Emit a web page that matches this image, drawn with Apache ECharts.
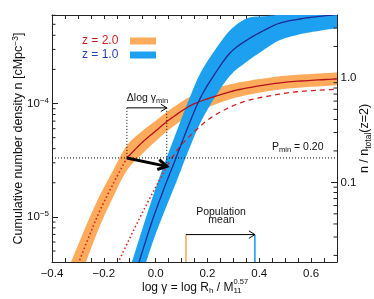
<!DOCTYPE html>
<html>
<head>
<meta charset="utf-8">
<script src="https://cdn.jsdelivr.net/npm/echarts@6.0.0/dist/echarts.min.js"></script>
<style>
html,body{margin:0;padding:0;background:#ffffff;}
#chart{width:374px;height:299px;}
</style>
</head>
<body>
<div id="chart"></div>
<script>
// ---------------- data ----------------
const xTickLabels = [-0.4, -0.2, 0.0, 0.2, 0.4, 0.6];
const leftTickLabels = [1e-5, 1e-4];
const rightTickLabels = [0.1, 1.0];

// z = 2.0 : cumulative density (dark red line) and its orange band
const z2X  = [-0.36, -0.296, -0.226, -0.168, -0.111, -0.049, 0.001, 0.055, 0.133, 0.200, 0.299, 0.399, 0.499, 0.600, 0.700];
const z2N  = [1.67e-6, 4.0e-6, 1.0e-5, 1.88e-5, 3.31e-5, 4.60e-5, 5.75e-5, 7.26e-5, 9.54e-5, 1.10e-4, 1.29e-4, 1.43e-4, 1.54e-4, 1.60e-4, 1.65e-4];
const z2Lo = [1.08e-6, 2.70e-6, 7.24e-6, 1.43e-5, 2.57e-5, 3.65e-5, 4.68e-5, 5.97e-5, 7.94e-5, 9.25e-5, 1.111e-4, 1.245e-4, 1.348e-4, 1.403e-4, 1.447e-4];
const z2Hi = [2.58e-6, 5.92e-6, 1.38e-5, 2.48e-5, 4.26e-5, 5.79e-5, 7.07e-5, 8.83e-5, 1.147e-4, 1.308e-4, 1.498e-4, 1.642e-4, 1.760e-4, 1.824e-4, 1.881e-4];
const z2DotEnd = 4;   // dotted below P_min, solid above

// z = 1.0 : cumulative density (navy line) and its blue band
const z1X  = [-0.11, -0.064, -0.014, 0.032, 0.079, 0.125, 0.171, 0.221, 0.287, 0.353, 0.422, 0.480, 0.557, 0.607, 0.700];
const z1N  = [1.85e-6, 4.0e-6, 9.1e-6, 1.77e-5, 3.33e-5, 6.24e-5, 1.10e-4, 1.72e-4, 2.79e-4, 3.64e-4, 4.46e-4, 5.13e-4, 5.57e-4, 5.79e-4, 6.10e-4];
const z1Lo = [1.17e-6, 2.52e-6, 5.74e-6, 1.09e-5, 2.01e-5, 3.76e-5, 6.63e-5, 1.061e-4, 1.76e-4, 2.35e-4, 3.02e-4, 3.63e-4, 4.08e-4, 4.29e-4, 4.63e-4];
const z1Hi = [2.93e-6, 6.34e-6, 1.44e-5, 2.87e-5, 5.53e-5, 1.036e-4, 1.826e-4, 2.79e-4, 4.42e-4, 5.64e-4, 5.90e-4, 6.10e-4, 6.60e-4, 7.00e-4, 7.50e-4];

// z = 2.0 curve with shifted gamma_min (red dotted / dashed)
const shX = [-0.18, -0.144, -0.053, 0.043, 0.094, 0.171, 0.221, 0.287, 0.353, 0.441, 0.546, 0.700];
const shN = [2.7e-6, 4.0e-6, 1.07e-5, 2.79e-5, 4.18e-5, 6.28e-5, 7.69e-5, 9.30e-5, 1.06e-4, 1.17e-4, 1.27e-4, 1.34e-4];
const shDotEnd = 3;

// annotations
const pMinLevel = [3.31e-5];                 // horizontal dotted line (P_min = 0.20)
const deltaGammaX = [-0.111, 0.043];         // Δlog γ_min arrow ends
const deltaGammaN = [9.16e-5];               // height of Δlog γ_min arrow
const shiftArrowX = [-0.111, 0.043];         // thick black arrow
const shiftArrowN = [3.31e-5, 2.79e-5];
const popMeanX = [0.117, 0.383];             // population means (z=2, z=1)
const popMeanN = [6.98e-6];

// ---------------- style ----------------
const FONT = "'Liberation Sans', Arial, Helvetica, sans-serif";
const INK = '#111111';
const AX = '#222222';
const ORANGE = '#ffab5b';
const BLUE = '#1ea0f0';
const DARKRED = '#b3121e';
const NAVY = '#1c2a92';
const RED = '#cc1f1f';
const LEG_RED = '#cc2222';
const LEG_BLUE = '#2542b8';

const XMIN = -0.4, XMAX = 0.7;
const YMIN = 4.0e-6, YMAX = 6.04e-4;
const RMIN = 0.0173, RMAX = 4.0;

function logMinor(lo, hi) {
  const out = [];
  for (let k = -8; k <= 3; k++) for (let m = 2; m <= 9; m++) {
    const v = m * Math.pow(10, k);
    if (v > lo * 1.0001 && v < hi * 0.9999) out.push(v);
  }
  return out;
}

// Catmull-Rom smoothing of already-projected pixel points (rendering only)
function smoothPx(pts, seg) {
  const out = [];
  for (let i = 0; i < pts.length - 1; i++) {
    const p0 = pts[Math.max(i - 1, 0)], p1 = pts[i], p2 = pts[i + 1], p3 = pts[Math.min(i + 2, pts.length - 1)];
    for (let k = 0; k < seg; k++) {
      const t = k / seg, t2 = t * t, t3 = t2 * t;
      out.push([0, 1].map(d => 0.5 * ((2 * p1[d]) + (-p0[d] + p2[d]) * t + (2 * p0[d] - 5 * p1[d] + 4 * p2[d] - p3[d]) * t2 + (-p0[d] + 3 * p1[d] - 3 * p2[d] + p3[d]) * t3)));
    }
  }
  out.push(pts[pts.length - 1]);
  return out;
}

function chevron(tip, from, len, angDeg) {
  const dx = tip[0] - from[0], dy = tip[1] - from[1];
  const L = Math.hypot(dx, dy) || 1;
  const bx = -dx / L, by = -dy / L, a = angDeg * Math.PI / 180;
  const c = Math.cos(a), s = Math.sin(a);
  return [
    [tip[0] + len * (bx * c - by * s), tip[1] + len * (bx * s + by * c)],
    [tip[0], tip[1]],
    [tip[0] + len * (bx * c + by * s), tip[1] + len * (-bx * s + by * c)]
  ];
}

function bandSeries(name, X, lo, hi, color) {
  return {
    type: 'custom', name, xAxisIndex: 0, yAxisIndex: 0, silent: true, clip: true,
    itemStyle: { color },
    data: [[0, 1e-4]],
    renderItem: (params, api) => {
      const up = X.map((x, i) => api.coord([x, hi[i]]));
      const dn = X.map((x, i) => api.coord([x, lo[i]]));
      const pts = smoothPx(up, 8).concat(smoothPx(dn, 8).reverse());
      return { type: 'polygon', shape: { points: pts }, style: { fill: color } };
    }
  };
}

function lineSeries(X, N, a, b, color, width, type) {
  return {
    type: 'custom', xAxisIndex: 0, yAxisIndex: 0, silent: true, clip: true,
    data: [[0, 1e-4]],
    renderItem: (params, api) => {
      const pts = [];
      for (let i = a; i <= b; i++) pts.push(api.coord([X[i], N[i]]));
      const style = { stroke: color, lineWidth: width, fill: null };
      if (type) style.lineDash = type;
      return { type: 'polyline', shape: { points: smoothPx(pts, 8) }, style };
    }
  };
}

function tickSeries(yIdx, xPos, values, dir, len) {
  return {
    type: 'custom', xAxisIndex: 0, yAxisIndex: yIdx, silent: true, z: 10,
    data: values.map(v => [xPos, v]),
    renderItem: (params, api) => {
      const p = api.coord([api.value(0), api.value(1)]);
      return { type: 'line', shape: { x1: p[0], y1: p[1], x2: p[0] + dir * len, y2: p[1] },
               style: { stroke: AX, lineWidth: 1 } };
    }
  };
}

const fmtX = v => {
  const hit = xTickLabels.find(t => Math.abs(t - v) < 1e-6);
  return hit === undefined ? '' : hit.toFixed(1).replace('-', '\u2212');
};
const fmtL = v => {
  const hit = leftTickLabels.find(t => Math.abs(Math.log10(v) - Math.log10(t)) < 1e-6);
  if (hit === undefined) return '';
  const e = Math.round(Math.log10(hit));
  return '{b|10}{e|' + (e < 0 ? '\u2212' : '') + Math.abs(e) + '}';
};
const fmtR = v => {
  const hit = rightTickLabels.find(t => Math.abs(Math.log10(v) - Math.log10(t)) < 1e-6);
  return hit === undefined ? '' : hit.toFixed(1);
};

// text measurement for the stacked sub/superscript in the x-axis title
const mctx = document.createElement('canvas').getContext('2d');
function tw(s, size) { mctx.font = size + "px 'Liberation Sans'"; return mctx.measureText(s).width; }
const XT_X = 142, XT_Y = 287.5, XT_FS = 12, XT_SUB = 8;
const x11 = XT_X + tw('log \u03b3 = log R', XT_FS) + tw('h', XT_SUB) + tw(' / M', XT_FS);

const chart = echarts.init(document.getElementById('chart'), null, { renderer: 'canvas', width: 374, height: 299 });

const baseAxisX = {
  type: 'value', min: XMIN, max: XMAX, interval: 0.05,
  axisLine: { show: true, onZero: false, lineStyle: { color: AX, width: 1 } },
  axisTick: { show: true, inside: true, length: 4, lineStyle: { color: AX, width: 1 } },
  splitLine: { show: false }, minorTick: { show: false }
};

const option = {
  animation: false,
  backgroundColor: '#ffffff',
  grid: { left: 52, right: 37, top: 15, bottom: 37, containLabel: false, outerBoundsMode: 'none' },
  xAxis: [
    Object.assign({}, baseAxisX, {
      position: 'bottom',
      axisLabel: { formatter: fmtX, fontFamily: FONT, fontSize: 11.5, color: INK, margin: 6, showMaxLabel: false }
    }),
    Object.assign({}, baseAxisX, { position: 'top', axisLabel: { show: false } })
  ],
  yAxis: [
    {
      type: 'log', logBase: 10, min: YMIN, max: YMAX, position: 'left',
      axisLine: { show: true, onZero: false, lineStyle: { color: AX, width: 1 } },
      axisTick: { show: true, inside: true, length: 6, lineStyle: { color: AX, width: 1 } },
      splitLine: { show: false }, minorTick: { show: false },
      axisLabel: {
        formatter: fmtL, margin: 3, showMinLabel: false, showMaxLabel: false,
        rich: {
          b: { fontFamily: FONT, fontSize: 11.5, color: INK, lineHeight: 14 },
          e: { fontFamily: FONT, fontSize: 8, color: INK, verticalAlign: 'top', lineHeight: 9 }
        }
      },
      name: '{m|Cumulative number density n [cMpc}{e|\u22123}{m|]}',
      nameLocation: 'middle', nameGap: 25, nameMoveOverlap: false,
      nameTextStyle: {
        rich: {
          m: { fontFamily: FONT, fontSize: 12.5, color: INK, lineHeight: 16 },
          e: { fontFamily: FONT, fontSize: 8.5, color: INK, verticalAlign: 'top', lineHeight: 10 }
        }
      }
    },
    {
      type: 'log', logBase: 10, min: RMIN, max: RMAX, position: 'right',
      axisLine: { show: true, onZero: false, lineStyle: { color: AX, width: 1 } },
      axisTick: { show: true, inside: true, length: 6, lineStyle: { color: AX, width: 1 } },
      splitLine: { show: false }, minorTick: { show: false },
      axisLabel: { formatter: fmtR, margin: 3.5, fontFamily: FONT, fontSize: 11.5, color: INK, showMinLabel: false, showMaxLabel: false },
      name: '{m|n / n}{s|total}{m|(z=2)}',
      nameLocation: 'middle', nameGap: 20, nameMoveOverlap: false,
      nameTextStyle: {
        rich: {
          m: { fontFamily: FONT, fontSize: 12.5, color: INK, lineHeight: 16 },
          s: { fontFamily: FONT, fontSize: 8.5, color: INK, verticalAlign: 'bottom', lineHeight: 10 }
        }
      }
    }
  ],
  series: [
    { type: 'line', xAxisIndex: 0, yAxisIndex: 0, silent: true, showSymbol: false, symbol: 'none',
      data: [[XMIN, pMinLevel[0]], [XMAX, pMinLevel[0]]],
      lineStyle: { color: '#000000', width: 1, type: [1, 2] } },
    bandSeries('z = 2.0', z2X, z2Lo, z2Hi, ORANGE),
    bandSeries('z = 1.0', z1X, z1Lo, z1Hi, BLUE),
    lineSeries(z2X, z2N, 0, z2DotEnd, '#e02020', 1.6, [1.5, 2.5]),
    lineSeries(z2X, z2N, z2DotEnd, z2X.length - 1, DARKRED, 1.3),
    lineSeries(shX, shN, 0, shDotEnd, '#e02020', 1.6, [1.5, 2.5]),
    lineSeries(shX, shN, shDotEnd, shX.length - 1, RED, 1.3, [5, 4]),
    lineSeries(z1X, z1N, 0, z1X.length - 1, NAVY, 1.3),
    {
      type: 'custom', xAxisIndex: 0, yAxisIndex: 0, silent: true, z: 6,
      data: [[0, 1e-4]],
      renderItem: (params, api) => {
        const c = (x, n) => api.coord([x, n]);
        const ch = [];
        const a0 = c(deltaGammaX[0], deltaGammaN[0]), a1 = c(deltaGammaX[1], deltaGammaN[0]);
        ch.push({ type: 'line', shape: { x1: a0[0], y1: a0[1], x2: a1[0], y2: a1[1] }, style: { stroke: '#000', lineWidth: 1 } });
        ch.push({ type: 'polyline', shape: { points: chevron(a1, a0, 7, 32) }, style: { stroke: '#000', lineWidth: 1, fill: null } });
        const v0 = c(shiftArrowX[0], shiftArrowN[0]), v1 = c(shiftArrowX[1], shiftArrowN[1]);
        ch.push({ type: 'line', shape: { x1: a0[0], y1: a0[1], x2: v0[0], y2: v0[1] }, style: { stroke: '#000', lineWidth: 1, lineDash: [1, 2] } });
        ch.push({ type: 'line', shape: { x1: a1[0], y1: a1[1], x2: v1[0], y2: v1[1] }, style: { stroke: '#000', lineWidth: 1, lineDash: [1, 2] } });
        ch.push({ type: 'line', shape: { x1: v0[0], y1: v0[1], x2: v1[0], y2: v1[1] }, style: { stroke: '#000', lineWidth: 3 } });
        ch.push({ type: 'polyline', shape: { points: chevron(v1, v0, 10, 30) }, style: { stroke: '#000', lineWidth: 3, fill: null, lineJoin: 'miter' } });
        const pOb = c(popMeanX[0], YMIN), pOt = c(popMeanX[0], popMeanN[0]);
        const pBb = c(popMeanX[1], YMIN), pBt = c(popMeanX[1], popMeanN[0]);
        ch.push({ type: 'line', shape: { x1: pOb[0], y1: pOb[1], x2: pOt[0], y2: pOt[1] }, style: { stroke: ORANGE, lineWidth: 1.6 } });
        ch.push({ type: 'line', shape: { x1: pBb[0], y1: pBb[1], x2: pBt[0], y2: pBt[1] }, style: { stroke: BLUE, lineWidth: 1.6 } });
        ch.push({ type: 'line', shape: { x1: pOt[0], y1: pOt[1], x2: pBt[0], y2: pBt[1] }, style: { stroke: '#000', lineWidth: 1 } });
        ch.push({ type: 'polyline', shape: { points: chevron(pBt, pOt, 7, 32) }, style: { stroke: '#000', lineWidth: 1, fill: null } });
        return { type: 'group', children: ch };
      }
    },
    tickSeries(0, XMIN, logMinor(YMIN, YMAX), 1, 3.5),
    tickSeries(1, XMAX, logMinor(RMIN, RMAX), -1, 3.5)
  ],
  graphic: [
    { type: 'text', x: 82, y: 41, style: { text: 'z = 2.0', fill: LEG_RED, fontFamily: FONT, fontSize: 12, align: 'left', verticalAlign: 'middle' } },
    { type: 'rect', shape: { x: 130, y: 37.5, width: 26, height: 7 }, style: { fill: ORANGE } },
    { type: 'text', x: 82, y: 55, style: { text: 'z = 1.0', fill: LEG_BLUE, fontFamily: FONT, fontSize: 12, align: 'left', verticalAlign: 'middle' } },
    { type: 'rect', shape: { x: 130, y: 51.5, width: 26, height: 7 }, style: { fill: BLUE } },
    { type: 'text', x: 147.5, y: 98.5, style: {
        text: '{m|\u0394log \u03b3}{s|min}', align: 'center', verticalAlign: 'middle',
        rich: { m: { fontFamily: FONT, fontSize: 10.5, fill: INK, lineHeight: 13 },
                s: { fontFamily: FONT, fontSize: 7.5, fill: INK, verticalAlign: 'bottom', lineHeight: 9 } } } },
    { type: 'text', x: 272, y: 147.5, style: {
        text: '{m|P}{s|min}{m| = 0.20}', align: 'left', verticalAlign: 'middle',
        rich: { m: { fontFamily: FONT, fontSize: 10.5, fill: INK, lineHeight: 13 },
                s: { fontFamily: FONT, fontSize: 7.5, fill: INK, verticalAlign: 'bottom', lineHeight: 9 } } } },
    { type: 'text', x: 221, y: 212.3, style: { text: 'Population', fill: INK, fontFamily: FONT, fontSize: 10.5, align: 'center', verticalAlign: 'middle' } },
    { type: 'text', x: 221.5, y: 220.5, style: { text: 'mean', fill: INK, fontFamily: FONT, fontSize: 10.5, align: 'center', verticalAlign: 'middle' } },
    { type: 'text', x: XT_X, y: XT_Y, style: {
        text: '{m|log \u03b3 = log R}{s|h}{m| / M}{s|11}', align: 'left', verticalAlign: 'middle',
        rich: { m: { fontFamily: FONT, fontSize: XT_FS, fill: INK, lineHeight: 14 },
                s: { fontFamily: FONT, fontSize: XT_SUB, fill: INK, verticalAlign: 'bottom', lineHeight: 9 } } } },
    { type: 'text', x: x11, y: 282, style: { text: '0.57', fill: INK, fontFamily: FONT, fontSize: 7.5, align: 'left', verticalAlign: 'middle' } }
  ]
};

chart.setOption(option);
</script>
</body>
</html>
